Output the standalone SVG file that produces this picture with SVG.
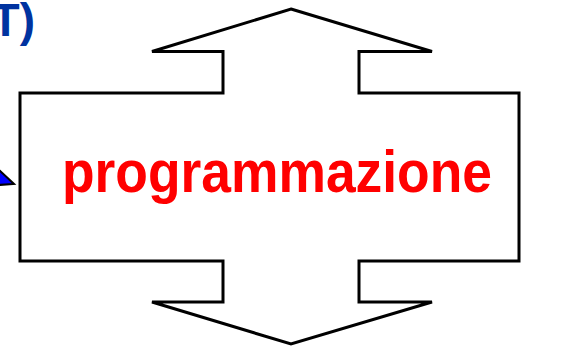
<svg xmlns="http://www.w3.org/2000/svg" width="565" height="346" viewBox="0 0 565 346">
<style>
.shape{fill:#fff;stroke:#000;stroke-width:3;stroke-linejoin:miter}
.lbl{font-family:"Comic Sans MS","Liberation Sans",sans-serif;font-weight:bold;fill:#ff0000}
.blue{font-family:"Comic Sans MS","Liberation Sans",sans-serif;font-weight:bold;fill:#0033a0}
</style>
<rect width="565" height="346" fill="#fff"/>
<g id="connectors">
<polygon points="-2,169 14,184 -2,185" fill="#0000ff" stroke="#000" stroke-width="2"/>
</g>
<g id="title">
<text class="blue" x="35" y="36" font-size="46" text-anchor="end">T)</text>
</g>
<g id="programmazione">
<path class="shape" d="M291,9 L432,51.5 L359,51.5 L359,93 L519,93 L519,261 L359,261 L359,302 L432,302 L291,344 L152,302 L223,302 L223,261 L20,261 L20,93 L223,93 L223,51.5 L152,51.5 Z"/>
<text class="lbl" x="62" y="192" font-size="60" textLength="430" lengthAdjust="spacingAndGlyphs">programmazione</text>
</g>
</svg>
